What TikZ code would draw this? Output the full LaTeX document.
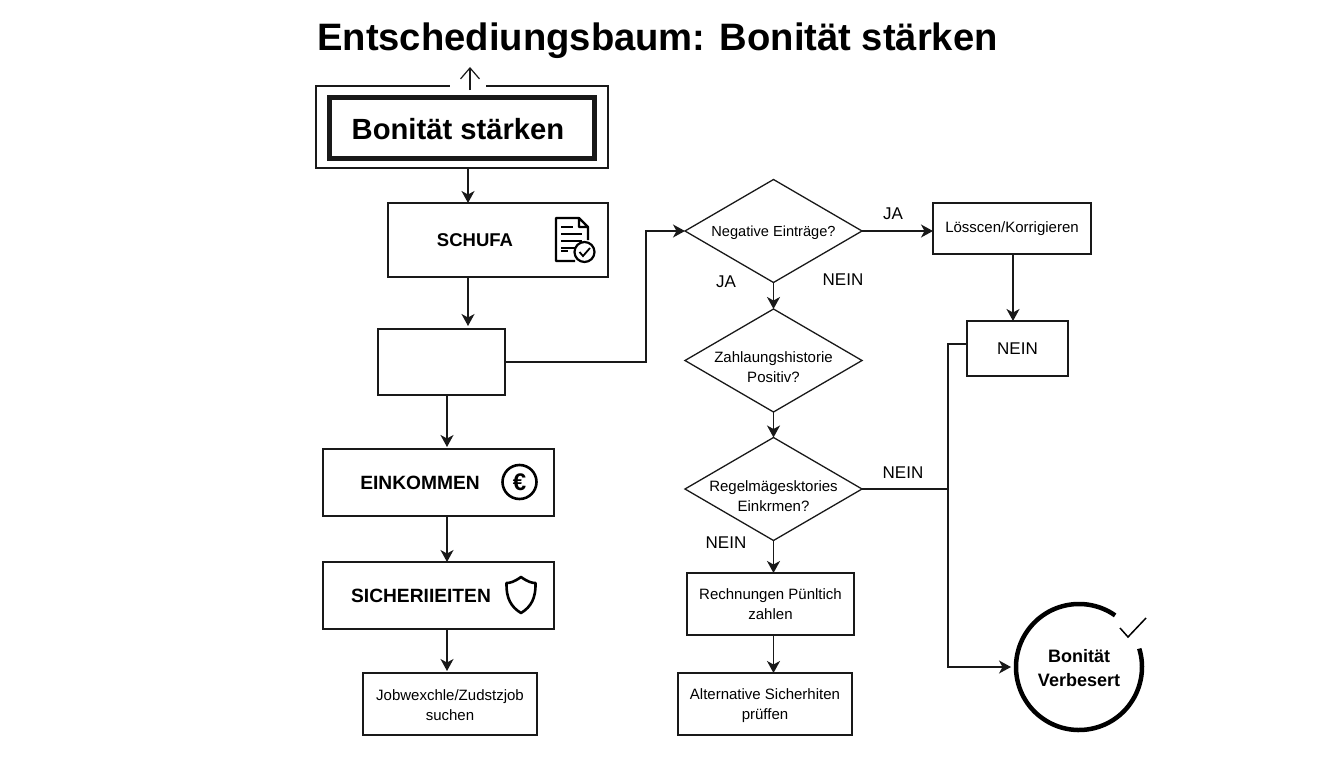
\documentclass[tikz,border=0pt]{standalone}
\usepackage{fontspec}
\setmainfont{Liberation Sans}
\usetikzlibrary{arrows.meta,shapes.geometric}
\newcommand{\fs}[1]{\fontsize{#1}{#1}\selectfont}
\tikzset{
  box/.style={draw=black!90,line width=1.3pt,outer sep=0pt,inner sep=0pt,align=center,font=\fs{15}},
  bigbox/.style={box,font=\fs{19.2}\bfseries},
  decision/.style={diamond,draw=black!90,line width=1.3pt,outer sep=0pt,inner sep=0pt,minimum width=177pt,minimum height=103pt},
  insidetext/.style={align=center,font=\fs{15},inner sep=0pt},
  answer/.style={font=\fs{17},inner sep=0pt},
  flow/.style={line width=1.4pt,black!90,-{Stealth[length=12pt,width=13pt,inset=3.5pt]}},
  plain/.style={line width=1.4pt,black!90},
  icon/.style={line width=2.2pt,black,line join=round}
}
\begin{document}
\begin{tikzpicture}[x=1pt,y=-1pt]
\useasboundingbox (0,0) rectangle (1344,768);

\node[font=\fs{38.2}\bfseries,inner sep=0pt] (title) at (657.5,40.5) {Entschediungsbaum: Bonität stärken};

\node[box,minimum width=292pt,minimum height=82pt] (outer) at (462,127) {};
\node[box,line width=4.8pt,minimum width=264.5pt,minimum height=61.5pt,font=\fs{29.2}\bfseries] (goal) at (462,128) {\rule{0pt}{24pt}Bonität stärken\hspace{8pt}};
\draw[white,line width=3pt] ([xshift=-12]outer.north) -- ([xshift=24]outer.north);
\coordinate (up) at (470,67);
\draw[line width=1.2pt,black!90,-{Straight Barb[length=11pt,width=19pt]}] ([xshift=8,yshift=-4]outer.north) -- (up);

\node[bigbox,minimum width=220pt,minimum height=74pt,font=\fs{18.5}\bfseries] (schufa) at (498,240) {SCHUFA\hspace{46pt}};
\node[box,minimum width=127pt,minimum height=66pt] (empty) at (441.5,362) {};
\node[bigbox,minimum width=231pt,minimum height=67pt] (einkommen) at (438.5,482.5) {EINKOMMEN\hspace{37pt}};
\node[bigbox,minimum width=231pt,minimum height=67pt] (sicherheiten) at (438.5,595.5) {SICHERIIEITEN\hspace{35pt}};
\node[box,minimum width=174pt,minimum height=62pt] (job) at (450,704) {\rule{0pt}{13pt}Jobwexchle/Zudstzjob\\[5pt]suchen};

\node[decision,label={[insidetext,yshift=-2pt,font=\fs{14.6}]center:Negative Einträge?}] (negativ) at (773.5,231) {};
\node[decision,label={[insidetext,yshift=-7pt]center:Zahlaungshistorie\\[5pt]Positiv?}] (historie) at (773.5,360.5) {};
\node[decision,label={[insidetext,yshift=-7pt]center:Regelmägesktories\\[5pt]Einkrmen?}] (regel) at (773.5,489) {};
\node[box,minimum width=167pt,minimum height=62pt] (rechnung) at (770.5,604) {Rechnungen Pünltich\\[5pt]zahlen};
\node[box,minimum width=174pt,minimum height=62pt] (alternativ) at (765,704) {\rule{0pt}{15pt}Alternative Sicherhiten\\[5pt]prüffen};

\node[box,minimum width=158pt,minimum height=51pt] (loeschen) at (1012,228.5) {Lösscen/Korrigieren};
\node[box,minimum width=101pt,minimum height=55pt,font=\fs{17}] (nein) at (1017.5,348.5) {NEIN};

\node[circle,outer sep=0pt,inner sep=0pt,minimum size=126pt,align=center,font=\fs{18}\bfseries] (done) at (1079,667) {\rule{0pt}{15pt}Bonität\\[6pt]Verbesert};
\draw[line width=4.5pt,black] (done.55) arc[start angle=55,end angle=377,radius=63pt];
\draw[line width=1.5pt,black] (1120,628) -- (1128,637) -- (1146,618);

\coordinate (turn) at (646,300);
\coordinate (bus) at (948,489);

\draw[flow] ([xshift=6]outer.south) -- ([xshift=-30]schufa.north);
\draw[flow] ([xshift=-30]schufa.south) -- ([xshift=26.5,yshift=3]empty.north);
\draw[flow] ([xshift=5.5]empty.south) -- ([xshift=8.5,yshift=2]einkommen.north);
\draw[flow] ([xshift=8.5]einkommen.south) -- ([xshift=8.5]sicherheiten.north);
\draw[flow] ([xshift=8.5]sicherheiten.south) -- ([xshift=-3,yshift=2]job.north);
\draw[flow] (empty.east) -| (turn) |- (negativ.west);
\draw[flow] (negativ.east) -- (negativ.east -| loeschen.west);
\draw[flow] (negativ.south) -- (historie.north);
\draw[flow] (historie.south) -- (regel.north);
\draw[flow] (regel.south) -- ([xshift=3]rechnung.north);
\draw[flow] ([xshift=3]rechnung.south) -- ([xshift=8.5]alternativ.north);
\draw[flow] ([xshift=1]loeschen.south) -- ([xshift=-4.5]nein.north);
\draw[plain] (regel.east) -- (bus);
\draw[flow,shorten >=5pt] ([yshift=4.5]nein.west) -| (bus) |- (done.west);

\node[answer] (jaright) at (893,214) {JA};
\node[answer] (jadown) at (726,282) {JA};
\node[answer] (neindown) at (843,280) {NEIN};
\node[answer] (neinright) at (903,473) {NEIN};
\node[answer] (neinlow) at (726,543) {NEIN};

\draw[icon] (579,218) -- (556,218) -- (556,261) -- (575,261) (588,240) -- (588,227) -- (579,218) -- (579,227) -- (588,227);
\foreach \y/\x in {227/573,234/582,241/582,248/577,251/568} \draw[line width=1.6pt] (561,\y) -- (\x,\y);
\draw[icon,fill=white] (584.5,252) circle (10pt);
\draw[line width=1.8pt] (579.5,252) -- (583,256) -- (590,248);

\node[circle,draw,line width=2.6pt,minimum size=34pt,inner sep=0pt,font=\fs{24}\bfseries] (euro) at (519.5,482) {€};

\draw[icon,line width=2.6pt] (521,577) .. controls (514,582) and (510,583) .. (506.5,583) .. controls (506,598) and (511,607) .. (521,613) .. controls (531,607) and (536,598) .. (535.5,583) .. controls (532,583) and (528,582) .. (521,577) -- cycle;
\end{tikzpicture}
\end{document}
